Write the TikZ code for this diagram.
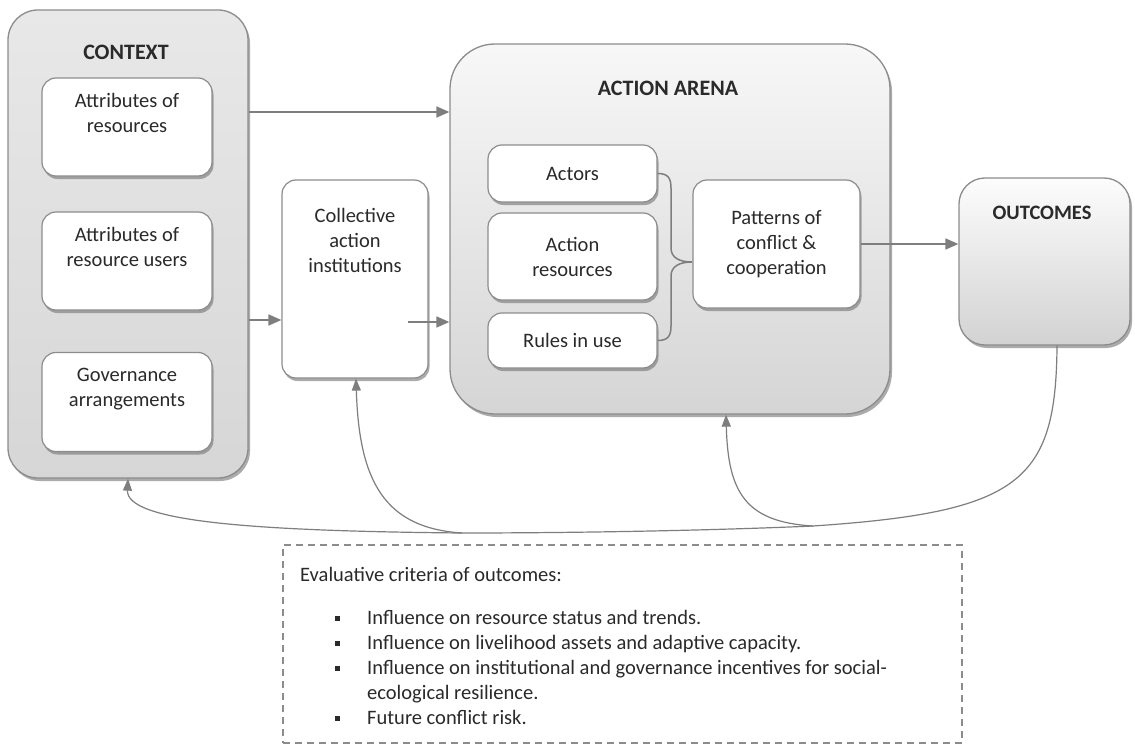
\documentclass[tikz,border=0pt]{standalone}
\usepackage{fontspec}
\setmainfont{Carlito}
\usetikzlibrary{arrows.meta,shadows,calc}

\definecolor{edge}{HTML}{8C8C8C}
\definecolor{wire}{HTML}{7E7E7E}
\definecolor{ink}{HTML}{2A2A2A}

\begin{document}
\begin{tikzpicture}[x=1pt,y=-1pt]
\tikzset{
  panel/.style={draw=edge, line width=1.3pt, rounded corners=#1,
    drop shadow={shadow xshift=2pt, shadow yshift=-3pt, fill=black!55, opacity=0.6}},
  card/.style={draw=edge, line width=1.2pt, fill=white, rounded corners=14pt,
    align=center, inner sep=0pt, text=ink, font=\fontsize{20.5}{25}\selectfont,
    drop shadow={shadow xshift=1.5pt, shadow yshift=-3pt, fill=black!55, opacity=0.6}},
  title/.style={font=\fontsize{22}{25}\selectfont\bfseries, text=ink},
  label/.style={align=center, text=ink, font=\fontsize{20.5}{25}\selectfont},
  flow/.style={draw=wire, line width=1.6pt, -{Triangle[length=13pt,width=11pt]}},
  back/.style={draw=wire, line width=1.2pt, -{Triangle[length=12pt,width=9pt]}},
  brace/.style={draw=wire, line width=1.5pt},
  evaltext/.style={font=\fontsize{20.5}{25}\selectfont, anchor=base west, text=ink, inner sep=0pt},
  dot/.style={fill=ink, minimum size=5pt, inner sep=0pt},
}
\fill[white] (0,0) rectangle (1135,749);
\useasboundingbox (0,0) rectangle (1135,749);

% Context column
\node[panel=30pt, top color=gray!18, bottom color=gray!32,
      minimum width=240pt, minimum height=468pt] (context) at (128,244) {};
\node[title] (ctxtitle) at (126,52) {CONTEXT};
\node[card, minimum width=170pt, minimum height=98pt] (res) at (127,127)
  {Attributes of\\resources\\[4pt]};
\node[card, minimum width=170pt, minimum height=98pt] (users) at (127,261)
  {Attributes of\\resource users\\[4pt]};
\node[card, minimum width=170pt, minimum height=99pt] (gov) at (127,402)
  {Governance\\arrangements\\[4pt]};

% Collective action institutions
\node[card, minimum width=146pt, minimum height=198pt] (coll) at (355,279) {};
\node[label] (colltxt) at (355,240) {Collective\\action\\institutions};

% Action arena
\node[panel=45pt, top color=gray!6, bottom color=gray!33,
      minimum width=440pt, minimum height=370pt] (arena) at (670,229) {};
\node[title] (arenatitle) at (668,88) {ACTION ARENA};
\node[card, minimum width=169pt, minimum height=57pt] (actors) at (572.5,173.5) {Actors};
\node[card, minimum width=169pt, minimum height=87pt] (actres) at (572.5,256.5) {Action\\resources};
\node[card, minimum width=169pt, minimum height=55pt] (rules) at (572.5,340.5) {Rules in use};
\node[card, minimum width=167pt, minimum height=128pt] (patterns) at (776.5,244)
  {Patterns of\\conflict \&\\cooperation};

% Outcomes
\node[panel=26pt, top color=gray!2, bottom color=gray!35,
      minimum width=171pt, minimum height=167pt] (outcomes) at (1044.5,261.5) {};
\node[title, font=\fontsize{20.5}{25}\selectfont\bfseries] (outtitle) at (1042,213) {OUTCOMES};

% Forward flows
\coordinate (topy) at (0,112);
\coordinate (midy) at (0,320);
\coordinate (collout) at (408,322);
\draw[flow] (context.east |- topy) -- (arena.west |- topy);
\draw[flow] (context.east |- midy) -- (coll.west |- midy);
\draw[flow] (collout) -- (arena.west |- collout);
\draw[flow] (patterns.east) -- (outcomes.west |- patterns.east);

% Brace joining the three arena elements
\coordinate (tip) at (692,262);
\draw[brace] (actors.east) .. controls (668,173.5) and (671,178) .. (671,188)
  -- (671,248) .. controls (671,258) and (680,262) .. (tip);
\draw[brace] (rules.east) .. controls (668,340.5) and (671,336) .. (671,326)
  -- (671,276) .. controls (671,266) and (680,262) .. (tip);

% Feedback loops from outcomes
\coordinate (ox) at (1057,0);
\coordinate (ax) at (726,0);
\coordinate (cx) at (356,0);
\coordinate (jA) at (813,526);
\coordinate (jB) at (462,533);
\draw[back] (outcomes.south -| ox) .. controls (1056,482) and (1020,512) .. (jA)
  .. controls (700,531) and (560,533) .. (jB)
  .. controls (255,531) and (126,522) .. (context.south);
\draw[back] (jA) .. controls (745,522) and (728,492) .. (arena.south -| ax);
\draw[back] (jB) .. controls (385,528) and (359,482) .. (coll.south -| cx);

% Evaluative criteria
\node[draw=edge, line width=1.2pt, dash pattern=on 7pt off 5pt,
      minimum width=679pt, minimum height=198pt] (eval) at (622.5,644) {};
\node[evaltext] (evhead) at (300,581) {Evaluative criteria of outcomes:};
\node[dot] (d1) at (337,618) {};
\node[dot] (d2) at (337,643) {};
\node[dot] (d3) at (337,668) {};
\node[dot] (d4) at (337,718) {};
\node[evaltext] (e1) at (367,624) {Influence on resource status and trends.};
\node[evaltext] (e2) at (367,649) {Influence on livelihood assets and adaptive capacity.};
\node[evaltext] (e3) at (367,674) {Influence on institutional and governance incentives for social-};
\node[evaltext] (e4) at (367,699) {ecological resilience.};
\node[evaltext] (e5) at (367,724) {Future conflict risk.};
\end{tikzpicture}
\end{document}
